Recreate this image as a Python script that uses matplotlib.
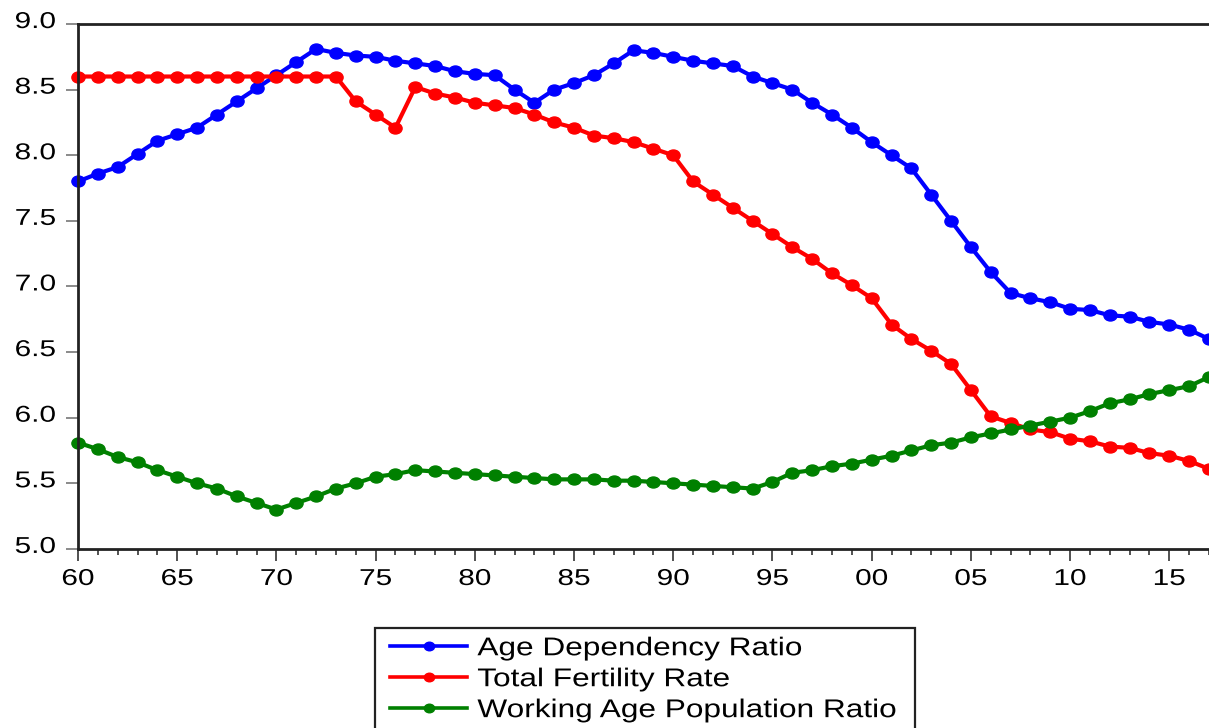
import numpy as np
import matplotlib.pyplot as plt
from matplotlib.ticker import MultipleLocator, FuncFormatter
from matplotlib.patheffects import AbstractPathEffect
from matplotlib.transforms import Affine2D, ScaledTranslation
from matplotlib.path import Path
from matplotlib.patches import Rectangle

plt.rcParams['font.family'] = ['Liberation Sans', 'DejaVu Sans']

# ---- Datos ----
years = np.arange(1960, 2018)

age_dependency = [7.80, 7.86, 7.91, 8.01, 8.11, 8.16, 8.21, 8.31, 8.41, 8.51,
                  8.61, 8.71, 8.81, 8.78, 8.76, 8.75, 8.72, 8.70, 8.68, 8.64,
                  8.62, 8.61, 8.50, 8.40, 8.50, 8.55, 8.61, 8.70, 8.80, 8.78,
                  8.75, 8.72, 8.70, 8.68, 8.60, 8.55, 8.50, 8.40, 8.31, 8.21,
                  8.10, 8.00, 7.90, 7.70, 7.50, 7.30, 7.11, 6.95, 6.91, 6.88,
                  6.83, 6.82, 6.78, 6.77, 6.73, 6.71, 6.67, 6.60]

fertility = [8.60, 8.60, 8.60, 8.60, 8.60, 8.60, 8.60, 8.60, 8.60, 8.60,
             8.60, 8.60, 8.60, 8.60, 8.41, 8.31, 8.21, 8.52, 8.47, 8.44,
             8.40, 8.38, 8.36, 8.31, 8.25, 8.21, 8.15, 8.13, 8.10, 8.05,
             8.00, 7.80, 7.70, 7.60, 7.50, 7.40, 7.30, 7.21, 7.10, 7.01,
             6.91, 6.71, 6.60, 6.51, 6.41, 6.21, 6.01, 5.96, 5.91, 5.89,
             5.84, 5.82, 5.78, 5.77, 5.73, 5.71, 5.67, 5.61]

working_age = [5.81, 5.76, 5.70, 5.66, 5.60, 5.55, 5.50, 5.46, 5.40, 5.35,
               5.30, 5.35, 5.40, 5.46, 5.50, 5.55, 5.57, 5.60, 5.59, 5.58,
               5.57, 5.56, 5.55, 5.54, 5.53, 5.53, 5.53, 5.52, 5.52, 5.51,
               5.50, 5.49, 5.48, 5.47, 5.46, 5.51, 5.58, 5.60, 5.63, 5.65,
               5.68, 5.71, 5.75, 5.79, 5.81, 5.85, 5.88, 5.91, 5.94, 5.97,
               6.00, 6.05, 6.11, 6.14, 6.18, 6.21, 6.24, 6.31]

series = [
    (age_dependency, '#0000FF', 'Age Dependency Ratio'),
    (fertility, '#FF0000', 'Total Fertility Rate'),
    (working_age, '#008000', 'Working Age Population Ratio'),
]


# ---- Texto ensanchado (la imagen original esta estirada en horizontal) ----
class StretchX(AbstractPathEffect):
    def __init__(self, sx, ha):
        super().__init__()
        self.sx = sx
        self.frac = {'left': 0.0, 'center': 0.5, 'right': 1.0}[ha]

    def draw_path(self, renderer, gc, tpath, affine, rgbFace=None):
        ext = tpath.get_extents()
        x0 = ext.x0 + self.frac * ext.width
        t = Affine2D().translate(-x0, 0).scale(self.sx, 1).translate(x0, 0) + affine
        renderer.draw_path(gc, tpath, t, rgbFace)


# marcador eliptico (mas ancho que alto)
circ = Path.unit_circle()
ellipse = Path(circ.vertices * np.array([1.2, 1.0]), circ.codes)

# ---- Graficar ----
fig = plt.figure(figsize=(12.09, 7.28), dpi=100)
ax = fig.add_axes([0.0645, 0.246, 0.9355, 0.721])

for vals, color, label in series:
    ax.plot(years, vals, color=color, lw=3, marker=ellipse, ms=9.5,
            label=label, clip_on=False)

ax.set_xlim(1960, 2017)
ax.set_ylim(5.0, 9.0)
ax.yaxis.set_major_locator(MultipleLocator(0.5))
ax.yaxis.set_major_formatter(FuncFormatter(lambda v, p: f'{v:.1f}'))
ax.xaxis.set_major_locator(MultipleLocator(5))
ax.xaxis.set_minor_locator(MultipleLocator(1))
ax.xaxis.set_major_formatter(FuncFormatter(lambda v, p: f'{int(v) % 100:02d}'))

ax.tick_params(axis='both', which='major', labelsize=16.5, width=1.2,
               direction='out')
ax.tick_params(axis='y', length=9, pad=7, color='#777777')
ax.tick_params(axis='x', which='major', length=8.5, pad=4.5, color='#333333')
ax.tick_params(axis='x', which='minor', length=4.3, width=1.2, color='#333333')

for side in ['left', 'bottom', 'top']:
    ax.spines[side].set_linewidth(2)
    ax.spines[side].set_color('#222222')
ax.spines['right'].set_visible(False)

leg = ax.legend(loc='upper left', bbox_to_anchor=(0.3226, 0.126),
                bbox_transform=fig.transFigure, fontsize=18.5,
                frameon=False, handlelength=3.0, handletextpad=0.4,
                labelspacing=0.27, borderpad=0, markerscale=0.78,
                borderaxespad=0)
for ln in leg.get_lines():
    ln.set_linewidth(2.6)
for t in leg.get_texts():
    t.set_path_effects([StretchX(1.23, 'left')])

# marco de la leyenda (cortado por el borde inferior)
fig.patches.append(Rectangle((375 / 1209, -0.05), 540 / 1209, 0.05 + 100 / 728,
                             transform=fig.transFigure, fill=False,
                             edgecolor='#222222', lw=1.6))

fig.canvas.draw()
for lbl in ax.get_yticklabels():
    lbl.set_path_effects([StretchX(1.3, 'right')])
    lbl.set_transform(lbl.get_transform() +
                      ScaledTranslation(0, 0.05, fig.dpi_scale_trans))
for lbl in ax.get_xticklabels():
    lbl.set_path_effects([StretchX(1.3, 'center')])

plt.savefig('out.png', dpi=100)
